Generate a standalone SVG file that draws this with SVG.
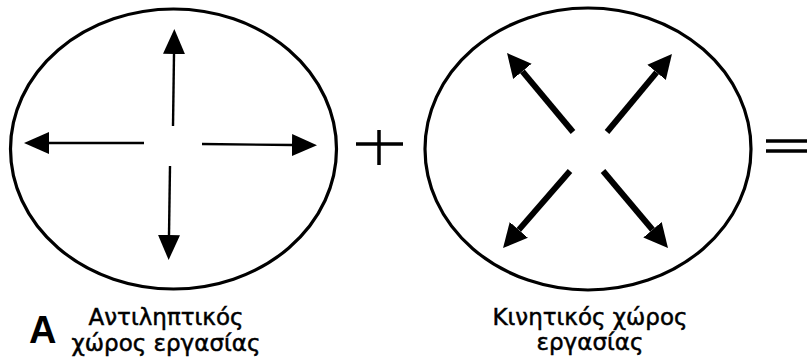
<svg xmlns="http://www.w3.org/2000/svg" width="807" height="360" viewBox="0 0 807 360">
<style>
.ell{fill:none;stroke:#000;stroke-width:3.2}
.thin{stroke:#000;stroke-width:2.4;fill:none}
.thick{stroke:#000;stroke-width:6;fill:none}
.sym{stroke:#000;stroke-width:3.5;fill:none}
.lbl{font-family:"DejaVu Sans","Liberation Sans",sans-serif;font-size:23px;fill:#000;stroke:#000;stroke-width:0.5;text-anchor:middle}
.big{font-family:"Liberation Sans",Arial,sans-serif;font-size:38px;font-weight:bold;fill:#000}
</style>
<defs>
<marker id="hs" markerUnits="userSpaceOnUse" markerWidth="26" markerHeight="24" refX="0" refY="11" orient="auto" viewBox="0 0 26 22">
<path d="M0,0 L25,11 L0,22 z" fill="#000"/>
</marker>
<marker id="hk" markerUnits="userSpaceOnUse" markerWidth="26" markerHeight="26" refX="0" refY="12" orient="auto" viewBox="0 0 26 24">
<path d="M0,0 L24,12 L0,24 z" fill="#000"/>
</marker>
</defs>
<g id="perceptual">
<ellipse class="ell" cx="173.5" cy="149" rx="163" ry="140"/>
<text class="lbl" x="166" y="325">Αντιληπτικός</text>
<text class="lbl" x="166" y="351">χώρος εργασίας</text>
</g>
<g id="motor">
<ellipse class="ell" cx="588" cy="149" rx="163" ry="141"/>
<text class="lbl" x="590" y="325">Κινητικός χώρος</text>
<text class="lbl" x="590" y="350">εργασίας</text>
</g>
<g id="label-a">
<text class="big" x="29" y="343">A</text>
</g>
<g id="operators">
<path class="sym" d="M356,144 H403 M379,130 V165"/>
<path class="sym" d="M766,141 H807 M766,151 H807"/>
</g>
<g id="connectors">
<path class="thin" d="M173,126 L174,54" marker-end="url(#hs)"/>
<path class="thin" d="M170,166 L169,235" marker-end="url(#hs)"/>
<path class="thin" d="M144,143 L49,143" marker-end="url(#hs)"/>
<path class="thin" d="M202,144 L292,145" marker-end="url(#hs)"/>
<path class="thick" d="M573,132 L522.4,71.4" marker-end="url(#hk)"/>
<path class="thick" d="M607,132 L656.6,72.4" marker-end="url(#hk)"/>
<path class="thick" d="M570,171 L518.8,229.9" marker-end="url(#hk)"/>
<path class="thick" d="M603,171 L652.5,229.7" marker-end="url(#hk)"/>
</g>
</svg>
